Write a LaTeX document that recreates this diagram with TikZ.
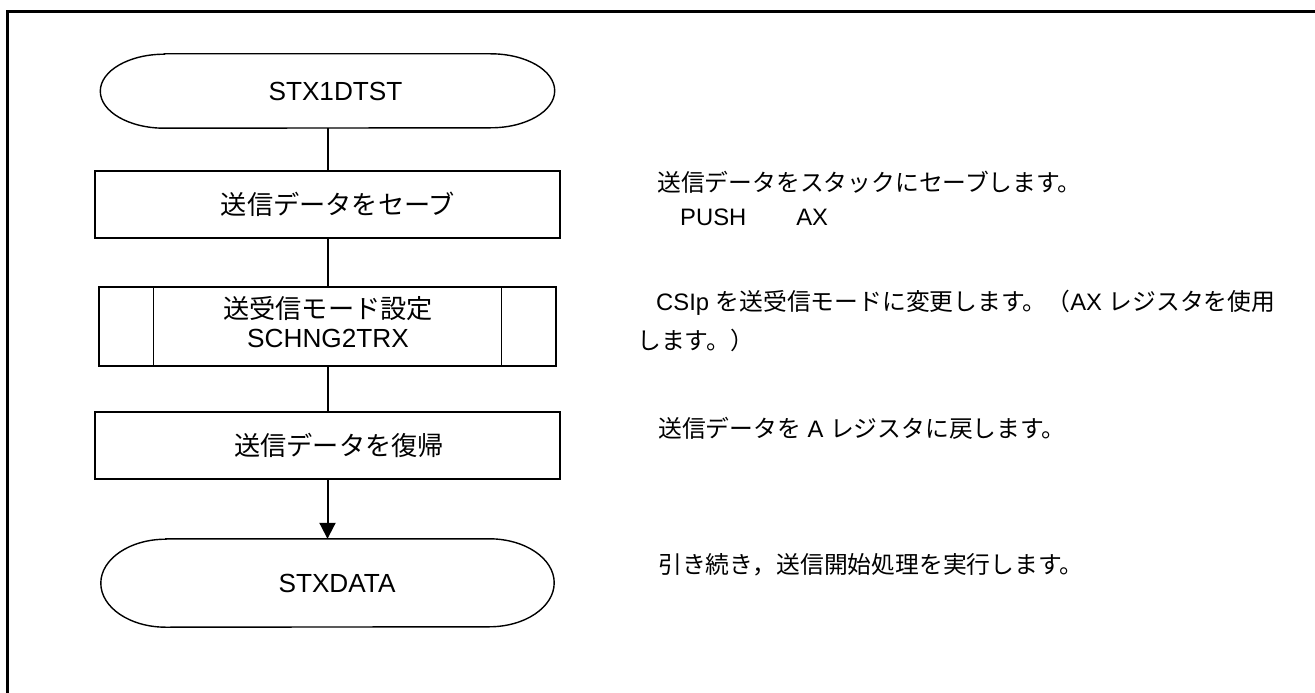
\documentclass[tikz,border=0pt]{standalone}
\usepackage{fontspec}
\setmainfont{Liberation Sans}
\newfontfamily\jp{Noto Sans CJK JP}
\usetikzlibrary{arrows.meta}
\begin{document}
\begin{tikzpicture}[x=1pt,y=-1pt,
  shapeline/.style={line width=1.4pt},
  flow/.style={line width=2pt},
  boxtext/.style={font=\fontsize{26.2}{29}\selectfont, inner sep=0pt},
  procbox/.style={boxtext, draw, shapeline, minimum width=465pt, minimum height=67pt},
  termbox/.style={boxtext, minimum width=454pt},
  note/.style={font=\fontsize{23.8}{30}\selectfont, inner sep=0pt, anchor=west}]
\fill[white] (0,0) rectangle (1315,693);
\useasboundingbox (0,0) rectangle (1315,693);
% frame
\draw[line width=2.5pt] (7.7,700) -- (7.7,11.5) -- (1320,11.5);

% start terminal
\node[termbox, minimum height=74pt] (t1) at (327.5,91) {\hspace*{16pt}STX1DTST};
\draw[shapeline] ([xshift=64pt]t1.north west) -- ([xshift=-64pt]t1.north east)
  arc[start angle=90,end angle=-90,x radius=64pt,y radius=37pt]
  -- ([xshift=64pt]t1.south west)
  arc[start angle=270,end angle=90,x radius=64pt,y radius=37pt] -- cycle;

% process boxes
\node[procbox] (b1) at (327.5,204.5) {\hspace*{21pt}\jp 送信データをセーブ};

\node[draw, shapeline, minimum width=457pt, minimum height=79pt, inner sep=0pt] (s1) at (327.5,326.5) {};
\draw[shapeline] ([xshift=55pt]s1.north west) -- ([xshift=55pt]s1.south west);
\draw[shapeline] ([xshift=-55pt]s1.north east) -- ([xshift=-55pt]s1.south east);
\node[boxtext, align=center] (s1t) at (328,322.5) {{\jp 送受信モード設定}\\SCHNG2TRX};

\node[procbox] (b3) at (327.5,445.5) {\hspace*{23pt}\jp 送信データを復帰};

% end terminal
\node[termbox, minimum width=453pt, minimum height=88pt] (t2) at (327.5,583) {\hspace*{19pt}STXDATA};
\draw[shapeline] ([xshift=65pt]t2.north west) -- ([xshift=-65pt]t2.north east)
  arc[start angle=90,end angle=-90,x radius=65pt,y radius=44pt]
  -- ([xshift=65pt]t2.south west)
  arc[start angle=270,end angle=90,x radius=65pt,y radius=44pt] -- cycle;

% connectors
\draw[flow] (t1.south) -- (b1.north);
\draw[flow] (b1.south) -- (s1.north);
\draw[flow] (s1.south) -- (b3.north);
\draw[flow,-{Triangle[width=16pt,length=16pt]}] (b3.south) -- (t2.north);

% notes
\node[note] (n1) at (657,182) {\jp 送信データをスタックにセーブします。};
\node[note] (n2) at (680,217) {PUSH\hspace*{50pt}AX};
\node[note] (n3) at (656,303) {CSIp {\jp を送受信モードに変更します。（}AX {\jp レジスタを使用}};
\node[note] (n4) at (637,340) {\jp します。）};
\node[note] (n5) at (658,428) {{\jp 送信データを} A {\jp レジスタに戻します。}};
\node[note] (n6) at (658,565) {\jp 引き続き，送信開始処理を実行します。};
\end{tikzpicture}
\end{document}
